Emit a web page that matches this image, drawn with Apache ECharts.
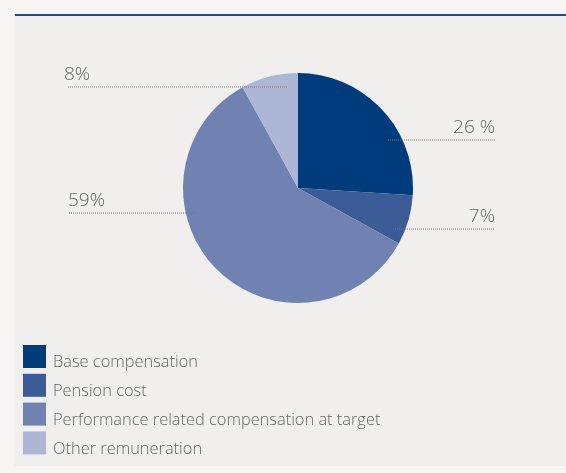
<!DOCTYPE html>
<html>
<head>
<meta charset="utf-8">
<script src="https://cdn.jsdelivr.net/npm/echarts@6/dist/echarts.min.js"></script>
<style>
  html, body { margin: 0; padding: 0; background: #f7f6f5; }
  #panel {
    position: absolute; left: 15px; top: 14px; width: 551px; height: 450px;
    background: #f0efee; border-top: 2px solid #1f4a86;
  }
  #chart { position: absolute; left: 0; top: 0; width: 566px; height: 473px; }
</style>
</head>
<body>
<div id="panel"></div>
<div id="chart"></div>
<script>
// remuneration split, clockwise from 12 o'clock
const categories = ['Base compensation', 'Pension cost', 'Performance related compensation at target', 'Other remuneration']
const shares = [26, 7, 59, 8]
const shareLabels = ['26 %', '7%', '59%', '8%']
const sliceColors = ['#003b7c', '#3b5b96', '#7082b1', '#adb6d5']

// where each annotation sits: text anchor + dotted leader from x1 to x2 at lineY
const annotations = [
  { textX: 495, align: 'right', lineY: 140, x1: 388, x2: 495 },
  { textX: 495, align: 'right', lineY: 229, x1: 393, x2: 495 },
  { textX: 68, align: 'left', lineY: 213, x1: 69, x2: 197 },
  { textX: 64, align: 'left', lineY: 87, x1: 68, x2: 287 },
]

const chart = echarts.init(document.getElementById('chart'))
const font = '"Open Sans", "Noto Sans", sans-serif'
const pieData = categories.map((name, i) => ({ name, value: shares[i] }))

chart.setOption({
  backgroundColor: 'transparent',
  animation: false,
  color: sliceColors,
  legend: {
    orient: 'vertical',
    left: 23,
    top: 345,
    padding: 0,
    icon: 'rect',
    itemWidth: 23,
    itemHeight: 23,
    itemGap: 3.3,
    selectedMode: false,
    formatter: (name) => '{t|' + name + '}',
    textStyle: {
      color: '#666', fontSize: 16.4, fontWeight: 300, fontFamily: font,
      rich: { t: { color: '#666', fontSize: 16.4, fontWeight: 300, fontFamily: font, padding: [12, 0, 0, 2] } },
    },
    data: categories,
  },
  series: [
    {
      type: 'pie',
      center: [298, 188],
      radius: 115,
      startAngle: 90,
      clockwise: true,
      silent: true,
      data: pieData,
      label: { show: false },
      labelLine: { show: false },
    },
    {
      // same pie, transparent, only carries the labels so the leaders sit on top
      type: 'pie',
      z: 5,
      center: [298, 188],
      radius: 115,
      startAngle: 90,
      clockwise: true,
      silent: true,
      legendHoverLink: false,
      data: pieData,
      itemStyle: { color: 'rgba(0,0,0,0)' },
      label: {
        show: true,
        position: 'outside',
        formatter: (p) => shareLabels[p.dataIndex],
        color: '#666',
        fontSize: 19,
        fontWeight: 300,
        fontFamily: font,
      },
      labelLine: {
        show: true,
        lineStyle: { color: '#777', width: 1, type: [1, 1] },
      },
      labelLayout: (params) => {
        const a = annotations[params.dataIndex]
        return {
          x: a.textX,
          y: a.lineY - 3,
          align: a.align,
          verticalAlign: 'bottom',
          labelLinePoints: [[a.x1, a.lineY], [a.x2, a.lineY], [a.x2, a.lineY]],
        }
      },
    },
  ],
})
</script>
</body>
</html>
